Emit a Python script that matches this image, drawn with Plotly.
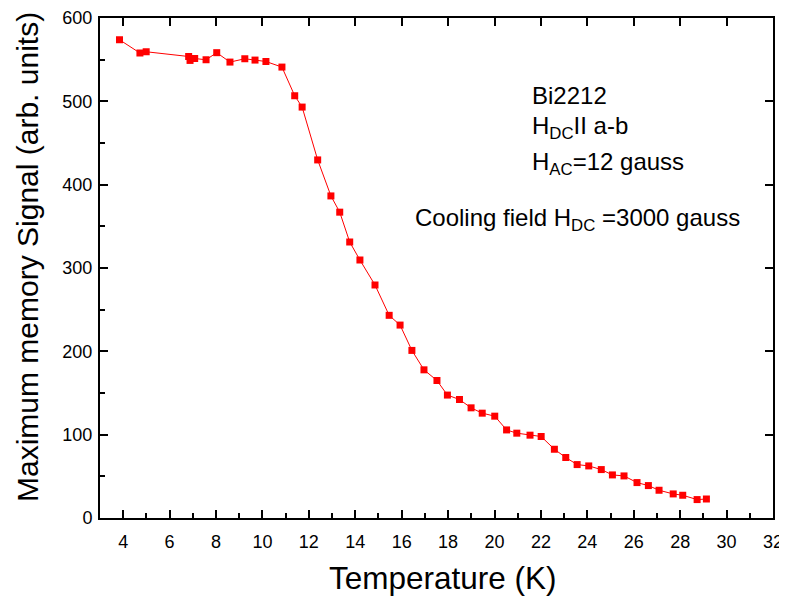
import plotly.graph_objects as go

temperature = [3.84, 4.72, 4.99, 6.82, 6.88, 7.08, 7.57, 8.03, 8.60, 9.24, 9.68, 10.15,
               10.84, 11.39, 11.71, 12.38, 12.95, 13.33, 13.76, 14.20, 14.85, 15.46, 15.93,
               16.44, 16.96, 17.52, 17.97, 18.49, 18.99, 19.47, 20.01, 20.52, 20.96, 21.53,
               22.01, 22.58, 23.07, 23.56, 24.06, 24.60, 25.08, 25.58, 26.14, 26.63, 27.09,
               27.70, 28.11, 28.73, 29.13]
signal = [573.9, 558.0, 559.5, 553.8, 549.1, 551.4, 549.9, 558.4, 547.1, 551.1, 549.5, 547.8,
          541.1, 506.7, 493.1, 429.7, 386.5, 367.0, 331.2, 309.6, 279.6, 243.2, 231.5,
          201.1, 177.8, 165.0, 147.5, 142.2, 132.2, 125.8, 122.2, 105.7, 101.8, 99.4,
          97.8, 82.5, 72.6, 64.1, 62.5, 58.1, 51.7, 50.5, 42.5, 38.9, 33.3,
          28.9, 27.3, 22.1, 22.8]

x_ticks = list(range(4, 33, 2))
y_ticks = list(range(0, 601, 100))

FONT = "Liberation Sans, Arial, sans-serif"

fig = go.Figure()
fig.add_trace(go.Scatter(
    x=temperature, y=signal, mode="lines+markers",
    line=dict(color="#ff0000", width=1),
    marker=dict(symbol="square", size=7, color="#ff0000"),
    showlegend=False,
))
# dummy trace for mirrored (top/right) major ticks
fig.add_trace(go.Scatter(x=[None], y=[None], xaxis="x2", yaxis="y2",
                         showlegend=False, hoverinfo="skip"))

axis_common = dict(showgrid=False, zeroline=False, showline=True, linecolor="black",
                   linewidth=2, ticks="inside", tickwidth=1.5, ticklen=8,
                   tickcolor="black", tickfont=dict(family=FONT, size=18, color="black"),
                   automargin=False)

fig.update_layout(
    width=787, height=591,
    margin=dict(l=92, r=22, t=10, b=81),
    paper_bgcolor="white", plot_bgcolor="white",
    font=dict(family=FONT, color="black"),
    xaxis=dict(range=[3, 32], tickvals=x_ticks, mirror=True, ticklabelstandoff=6,
               ticklabeloverflow="allow",
               minor=dict(dtick=1, tick0=3, ticks="inside", ticklen=5, tickwidth=1.5, tickcolor="black"),
               **axis_common),
    yaxis=dict(range=[0, 600], tickvals=y_ticks, mirror=True, ticklabelstandoff=2,
               minor=dict(dtick=50, tick0=0, ticks="inside", ticklen=5, tickwidth=1.5, tickcolor="black"),
               **axis_common),
    xaxis2=dict(range=[3, 32], overlaying="x", side="top", tickvals=x_ticks,
                showticklabels=False, showgrid=False, zeroline=False, showline=False,
                ticks="inside", ticklen=8, tickwidth=1.5, tickcolor="black", anchor="y2"),
    yaxis2=dict(range=[0, 600], overlaying="y", side="right", tickvals=y_ticks,
                showticklabels=False, showgrid=False, zeroline=False, showline=False,
                ticks="inside", ticklen=8, tickwidth=1.5, tickcolor="black", anchor="x2"),
)

# axis titles
fig.add_annotation(x=0.5097, y=-0.12, xref="paper", yref="paper", text="Temperature (K)",
                   showarrow=False, xanchor="center", yanchor="middle",
                   font=dict(family=FONT, size=31.5, color="black"))
fig.add_annotation(x=-0.1085, y=0.522, xref="paper", yref="paper",
                   text="Maximum memory Signal (arb. units)", textangle=-90,
                   showarrow=False, xanchor="center", yanchor="middle",
                   font=dict(family=FONT, size=30, color="black"))

ann_font = dict(family=FONT, size=24, color="black")
labels = [
    ("Bi2212", 21.53, 507.4),
    ("H<sub>DC</sub>II a-b", 21.53, 468.4),
    ("H<sub>AC</sub>=12 gauss", 21.53, 425.4),
    ("Cooling field H<sub>DC</sub> =3000 gauss", 16.49, 358.4),
]
for text, xv, yv in labels:
    fig.add_annotation(x=xv, y=yv, xref="x", yref="y", text=text, showarrow=False,
                       xanchor="left", yanchor="middle", font=ann_font)

fig.write_html("out.html")
